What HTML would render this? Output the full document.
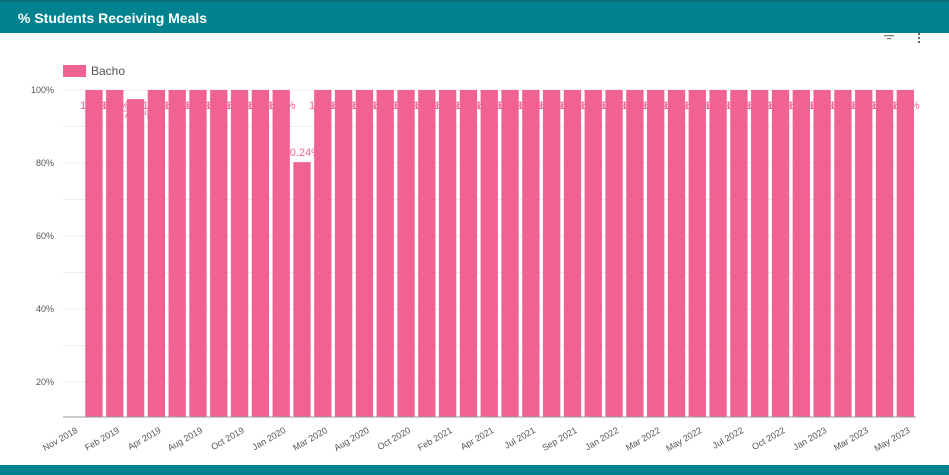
<!DOCTYPE html>
<html><head><meta charset="utf-8"><style>
body{margin:0;width:949px;height:475px;overflow:hidden;background:#fff;font-family:"Liberation Sans",sans-serif;position:relative}
#hdr{position:absolute;left:0;top:0;width:949px;height:33px;background:#00838f;border-top:2px solid #0a6f78;box-sizing:border-box}
#hdr span{position:absolute;left:18px;top:8px;color:#fff;font-weight:bold;font-size:14px}
#ftr{position:absolute;left:0;top:465px;width:949px;height:10px;background:#00838f}
svg{position:absolute;left:0;top:0}
</style></head><body>
<div id="hdr"><span>% Students Receiving Meals</span></div>
<div id="ftr"></div>
<svg id="c" width="949" height="475">
<g><rect x="884" y="35" width="10" height="1.2" fill="#777"/><rect x="887" y="38" width="4" height="1.2" fill="#777"/></g>
<g><circle cx="919" cy="34" r="1.1" fill="#555"/><circle cx="919" cy="38" r="1.1" fill="#555"/><circle cx="919" cy="42" r="1.1" fill="#555"/></g>
<rect x="63" y="65" width="23" height="12" fill="#f06292"/>
<text x="91" y="75" font-size="12" fill="#555">Bacho</text>
</svg>
<script>
const categories=["Nov 2018","Jan 2019","Feb 2019","Mar 2019","Apr 2019","May 2019","Aug 2019","Sep 2019","Oct 2019","Nov 2019","Jan 2020","Feb 2020","Mar 2020","Apr 2020","Aug 2020","Sep 2020","Oct 2020","Nov 2020","Feb 2021","Mar 2021","Apr 2021","May 2021","Jul 2021","Aug 2021","Sep 2021","Oct 2021","Jan 2022","Feb 2022","Mar 2022","Apr 2022","May 2022","Jun 2022","Jul 2022","Aug 2022","Oct 2022","Nov 2022","Jan 2023","Feb 2023","Mar 2023","Apr 2023","May 2023"];
const values=[null,100,100,97.5,100,100,100,100,100,100,100,80.24,100,100,100,100,100,100,100,100,100,100,100,100,100,100,100,100,100,100,100,100,100,100,100,100,100,100,100,100,100];
const yTicks=[20,40,60,80,100];
const NS="http://www.w3.org/2000/svg",svg=document.getElementById('c');
const x0=63,x1=916,yMin=10.4,yMax=100,yTop=90,yBot=417;
const slot=(x1-x0)/categories.length;
const X=i=>x0+i*slot, Y=v=>yBot-(v-yMin)/(yMax-yMin)*(yBot-yTop);
function mk(t,a){const e=document.createElementNS(NS,t);for(const k in a)e.setAttribute(k,a[k]);svg.appendChild(e);return e;}
for(let v=20;v<=100;v+=10){const g=mk('line',{x1:x0,x2:x1,y1:Y(v),y2:Y(v),stroke:'#eee'});

}
yTicks.forEach(v=>{const t=mk('text',{x:54,y:Y(v)+3,'font-size':9,fill:'#555','text-anchor':'end'});t.textContent=v+'%';

});
values.forEach((v,i)=>{if(v==null)return;
const r=mk('rect',{x:X(i)+1.5,y:Y(v),width:slot-3.5,height:yBot-Y(v),fill:'#f06292'});


const t=mk('text',{x:X(i)+slot/2,y:Y(v)+(v<95?-6:19),'font-size':11,fill:'#f06292','text-anchor':'middle'});
t.textContent=v.toFixed(v%1?2:0)+'%';

});
mk('line',{x1:x0,x2:x1,y1:yBot,y2:yBot,stroke:'#999'});
categories.forEach((c,i)=>{if(i%2)return;const cx=X(i)+slot/2+5,cy=yBot+15;
const t=mk('text',{x:cx,y:cy,'font-size':9,fill:'#555','text-anchor':'end',transform:`rotate(-30 ${cx} ${cy})`});t.textContent=c;

});
</script>
</body></html>
